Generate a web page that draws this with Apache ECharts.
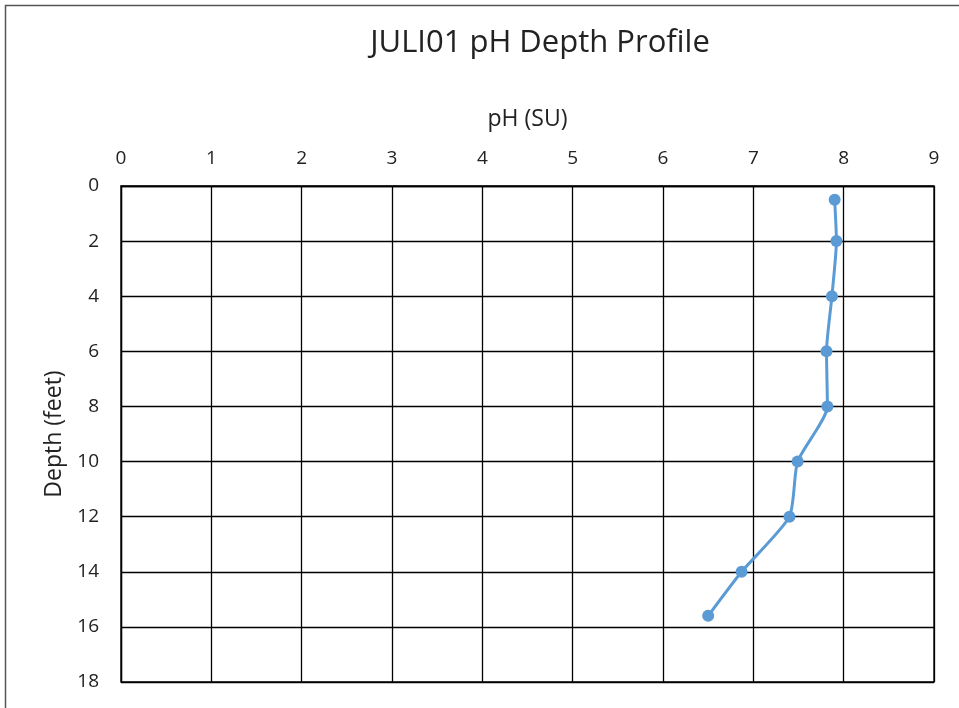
<!DOCTYPE html>
<html>
<head>
<meta charset="utf-8">
<script src="https://cdn.jsdelivr.net/npm/echarts@6/dist/echarts.min.js"></script>
<style>
  html, body { margin: 0; padding: 0; background: #fff; }
  #chart { width: 959px; height: 708px; }
</style>
</head>
<body>
<div id="chart"></div>
<script>
// depth profile readings (depth in feet, pH in SU)
var depths = [0.5, 2, 4, 6, 8, 10, 12, 14, 15.6];
var phValues = [7.9, 7.92, 7.87, 7.81, 7.82, 7.49, 7.40, 6.87, 6.50];

var chart = echarts.init(document.getElementById('chart'));

var seriesData = [];
for (var i = 0; i < depths.length; i++) {
  seriesData.push([phValues[i], depths[i]]);
}

var font = "'Open Sans', 'Liberation Sans', sans-serif";

var option = {
  animation: false,
  backgroundColor: '#ffffff',
  graphic: [{
    type: 'rect',
    silent: true,
    shape: { x: 5.5, y: 5.5, width: 1000, height: 1000 },
    style: { fill: 'none', stroke: '#555', lineWidth: 1.5 }
  }, {
    // chart title, centred over the plot area like the original
    type: 'text',
    silent: true,
    x: 540, y: 43,
    style: {
      text: 'JULI01 pH Depth Profile',
      fontFamily: font, fontSize: 31, fill: '#222',
      align: 'center', verticalAlign: 'middle'
    }
  }],
  grid: {
    left: 121, top: 186, right: 25, bottom: 26,
    show: true, borderColor: '#000', borderWidth: 1.3
  },
  xAxis: {
    type: 'value',
    position: 'top',
    min: 0, max: 9, interval: 1,
    name: 'pH (SU)',
    nameLocation: 'middle',
    nameGap: 55,
    nameTextStyle: { fontFamily: font, fontSize: 23, color: '#222' },
    axisLine: { show: true, lineStyle: { color: '#000', width: 1.3 } },
    axisTick: { show: false },
    axisLabel: { fontFamily: font, fontSize: 19, color: '#222', margin: 18 },
    splitLine: { show: true, lineStyle: { color: '#000', width: 1.3 } }
  },
  yAxis: {
    type: 'value',
    inverse: true,
    min: 0, max: 18, interval: 2,
    name: 'Depth (feet)',
    nameLocation: 'middle',
    nameGap: 54,
    nameRotate: 90,
    nameTextStyle: { fontFamily: font, fontSize: 23, color: '#222' },
    axisLine: { show: true, lineStyle: { color: '#000', width: 1.3 } },
    axisTick: { show: false },
    axisLabel: { fontFamily: font, fontSize: 19, color: '#222', margin: 22 },
    splitLine: { show: true, lineStyle: { color: '#000', width: 1.3 } }
  },
  series: [{
    type: 'line',
    data: seriesData,
    smooth: 0.2,
    symbol: 'circle',
    symbolSize: 12,
    itemStyle: { color: '#5B9BD5' },
    lineStyle: { color: '#5B9BD5', width: 3 }
  }]
};

chart.setOption(option);
</script>
</body>
</html>
